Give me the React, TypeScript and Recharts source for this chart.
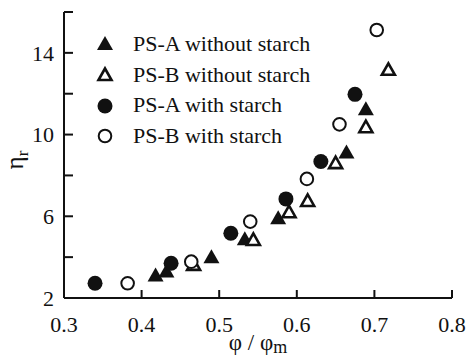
import React from "react";
import { ScatterChart, Scatter, XAxis, YAxis, Legend } from "recharts";

// values (phi / phi_m vs eta_r)
const psaNoStarchX = [0.418, 0.432, 0.49, 0.533, 0.576, 0.664, 0.689];
const psaNoStarchY = [3.1, 3.3, 4.0, 4.87, 5.9, 9.12, 11.24];
const psbNoStarchX = [0.467, 0.544, 0.59, 0.614, 0.65, 0.689, 0.718];
const psbNoStarchY = [3.62, 4.84, 6.2, 6.75, 8.6, 10.36, 13.17];
const psaStarchX = [0.34, 0.438, 0.515, 0.586, 0.631, 0.675];
const psaStarchY = [2.72, 3.7, 5.17, 6.85, 8.68, 11.97];
const psbStarchX = [0.382, 0.464, 0.54, 0.613, 0.655, 0.703];
const psbStarchY = [2.72, 3.78, 5.74, 7.83, 10.5, 15.12];

const xTicks = [0.3, 0.4, 0.5, 0.6, 0.7, 0.8];
const yTicks = [2, 4, 6, 8, 10, 12, 14, 16];
const yLabelled = [2, 6, 10, 14];

const seriesNames = [
  "PS-A without starch",
  "PS-B without starch",
  "PS-A with starch",
  "PS-B with starch",
];

const INK = "#111";
const FONT = "'Liberation Serif', 'Times New Roman', Times, 'Nimbus Roman', 'Noto Serif', 'DejaVu Serif', serif";

const toPoints = (xs: number[], ys: number[]) => xs.map((x, i) => ({ x, y: ys[i] }));

type MarkKind = "triFilled" | "triOpen" | "dotFilled" | "dotOpen";
const kinds: MarkKind[] = ["triFilled", "triOpen", "dotFilled", "dotOpen"];

function Mark({ kind, cx, cy }: { kind: MarkKind; cx: number; cy: number }) {
  if (kind === "triFilled") {
    return <polygon points={`${cx},${cy - 8} ${cx - 8},${cy + 6} ${cx + 8},${cy + 6}`} fill={INK} />;
  }
  if (kind === "triOpen") {
    return (
      <polygon
        points={`${cx},${cy - 6.5} ${cx - 6.5},${cy + 5} ${cx + 6.5},${cy + 5}`}
        fill="#fff"
        stroke={INK}
        strokeWidth={2.6}
        strokeLinejoin="miter"
      />
    );
  }
  if (kind === "dotFilled") return <circle cx={cx} cy={cy} r={7.5} fill={INK} />;
  return <circle cx={cx} cy={cy} r={6.3} fill="#fff" stroke={INK} strokeWidth={2} />;
}

const shapeFor = (kind: MarkKind) => (props: any) => <Mark kind={kind} cx={props.cx} cy={props.cy} />;

const labelStyle = { fontFamily: FONT, fontSize: 22, fill: INK };

function BottomTick({ x, y, payload }: any) {
  return (
    <g>
      <line x1={x} y1={y} x2={x} y2={y - 8} stroke={INK} strokeWidth={2} />
      <text x={x} y={y + 34} textAnchor="middle" {...labelStyle}>
        {payload.value.toFixed(1)}
      </text>
    </g>
  );
}

function TopTick({ x, y }: any) {
  return <line x1={x} y1={y} x2={x} y2={y + 8} stroke={INK} strokeWidth={2} />;
}

function LeftTick({ x, y, payload }: any) {
  return (
    <g>
      <line x1={x} y1={y} x2={x + 9} y2={y} stroke={INK} strokeWidth={2} />
      {yLabelled.includes(payload.value) && (
        <text x={x - 10} y={y} dy="0.36em" textAnchor="end" {...labelStyle}>
          {payload.value}
        </text>
      )}
    </g>
  );
}

function RightTick({ x, y }: any) {
  return <line x1={x} y1={y} x2={x - 10} y2={y} stroke={INK} strokeWidth={2} />;
}

function LegendBox() {
  return (
    <div style={{ fontFamily: FONT, fontSize: 22, color: INK, lineHeight: "30.7px" }}>
      {seriesNames.map((name, i) => (
        <div key={name} style={{ display: "flex", alignItems: "center", whiteSpace: "nowrap" }}>
          <svg width={20} height={20} style={{ marginRight: 18 }}>
            <Mark kind={kinds[i]} cx={10} cy={10} />
          </svg>
          <span>{name}</span>
        </div>
      ))}
    </div>
  );
}

export default function App() {
  const sets = [
    toPoints(psaNoStarchX, psaNoStarchY),
    toPoints(psbNoStarchX, psbNoStarchY),
    toPoints(psaStarchX, psaStarchY),
    toPoints(psbStarchX, psbStarchY),
  ];

  return (
    <div style={{ position: "absolute", left: 0, top: 0, background: "#fff" }}>
      <ScatterChart width={467} height={360} margin={{ top: 12, right: 15, left: 0, bottom: 0 }}>
        <XAxis
          xAxisId="b"
          type="number"
          dataKey="x"
          domain={[0.3, 0.8]}
          ticks={xTicks}
          interval={0}
          height={62}
          tickSize={0}
          tickMargin={0}
          tickLine={false}
          axisLine={{ stroke: INK, strokeWidth: 2 }}
          tick={<BottomTick />}
          label={{
            content: () => (
              <text x={258} y={350} textAnchor="middle" fontFamily={FONT} fontSize={23} fill={INK}>
                φ / φ<tspan fontSize={18} dy={3}>m</tspan>
              </text>
            ),
          }}
        />
        <XAxis
          xAxisId="t"
          orientation="top"
          type="number"
          dataKey="x"
          domain={[0.3, 0.8]}
          ticks={xTicks}
          interval={0}
          height={0}
          tickSize={0}
          tickMargin={0}
          tickLine={false}
          axisLine={{ stroke: INK, strokeWidth: 2 }}
          tick={<TopTick />}
        />
        <YAxis
          yAxisId="l"
          type="number"
          dataKey="y"
          domain={[2, 16]}
          ticks={yTicks}
          interval={0}
          width={64}
          tickSize={0}
          tickMargin={0}
          tickLine={false}
          axisLine={{ stroke: INK, strokeWidth: 2 }}
          tick={<LeftTick />}
          label={{
            content: () => (
              <text
                x={23}
                y={160}
                transform="rotate(-90, 23, 160)"
                textAnchor="middle"
                fontFamily={FONT}
                fontSize={25}
                fill={INK}
              >
                η<tspan fontSize={17} dy={5}>r</tspan>
              </text>
            ),
          }}
        />
        <YAxis
          yAxisId="r"
          orientation="right"
          type="number"
          dataKey="y"
          domain={[2, 16]}
          ticks={yTicks}
          interval={0}
          width={0}
          tickSize={0}
          tickMargin={0}
          tickLine={false}
          axisLine={{ stroke: INK, strokeWidth: 2 }}
          tick={<RightTick />}
        />
        {sets.map((data, i) => (
          <Scatter
            key={seriesNames[i]}
            name={seriesNames[i]}
            data={data}
            xAxisId="b"
            yAxisId="l"
            shape={shapeFor(kinds[i])}
            isAnimationActive={false}
          />
        ))}
        <Legend
          layout="vertical"
          align="center"
          verticalAlign="middle"
          wrapperStyle={{ top: 29, left: 95, width: "auto" }}
          content={() => <LegendBox />}
        />
      </ScatterChart>
    </div>
  );
}
